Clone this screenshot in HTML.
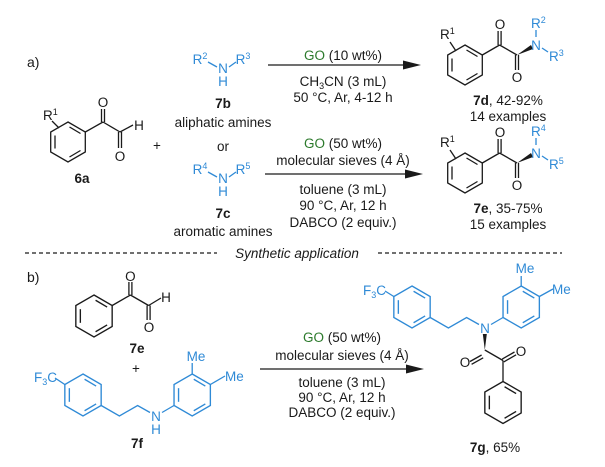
<!DOCTYPE html>
<html><head><meta charset="utf-8"><style>
html,body{margin:0;padding:0;background:#fff;}
svg{display:block;}
text{font-family:"Liberation Sans",Arial,sans-serif;font-size:13.5px;fill:#1a1a1a;}
.b{fill:#2f8ad6;}
.g{fill:#2c7a2c;}
.m{text-anchor:middle;}
.bold{font-weight:bold;}
.s{font-size:9px;}
</style></head><body>
<svg width="605" height="467" viewBox="0 0 605 467" xmlns="http://www.w3.org/2000/svg">
<defs>
<g id="ring" fill="none" stroke="currentColor" stroke-width="1.3">
<polygon points="0,-20 17.3,-10 17.3,10 0,20 -17.3,10 -17.3,-10"/>
<line x1="1.5" y1="-15" x2="12.5" y2="-8.5"/>
<line x1="12.5" y1="8.5" x2="1.5" y2="15"/>
<line x1="-13" y1="6.5" x2="-13" y2="-6.5"/>
</g>
</defs>
<g stroke="#1a1a1a" stroke-width="1.3" fill="none">
<use href="#ring" transform="translate(68,142)" style="color:#1a1a1a"/>
<line x1="85.3" y1="132" x2="103" y2="122"/>
<line x1="101.5" y1="122" x2="101.5" y2="109"/><line x1="104.5" y1="122" x2="104.5" y2="109"/>
<line x1="103" y1="122" x2="120" y2="132"/>
<line x1="120" y1="132" x2="133" y2="125"/>
<line x1="118.5" y1="132" x2="118.5" y2="148"/><line x1="121.5" y1="132" x2="121.5" y2="148"/>
<line x1="52" y1="121" x2="59" y2="128"/>
<use href="#ring" transform="translate(465,65)" style="color:#1a1a1a"/>
<line x1="482.3" y1="55" x2="499.6" y2="45"/>
<line x1="498.1" y1="45" x2="498.1" y2="31"/><line x1="501.1" y1="45" x2="501.1" y2="31"/>
<line x1="499.6" y1="45" x2="517" y2="55"/>
<line x1="515.5" y1="55" x2="515.5" y2="70"/><line x1="518.5" y1="55" x2="518.5" y2="70"/>
<line x1="450" y1="42" x2="456" y2="51"/>
<use href="#ring" transform="translate(465,173)" style="color:#1a1a1a"/>
<line x1="482.3" y1="163" x2="499.6" y2="153"/>
<line x1="498.1" y1="153" x2="498.1" y2="139"/><line x1="501.1" y1="153" x2="501.1" y2="139"/>
<line x1="499.6" y1="153" x2="517" y2="163"/>
<line x1="515.5" y1="163" x2="515.5" y2="178"/><line x1="518.5" y1="163" x2="518.5" y2="178"/>
<line x1="450" y1="150" x2="456" y2="159"/>
<line x1="268" y1="65" x2="406" y2="65"/>
<line x1="265" y1="174" x2="408" y2="174"/>
<line x1="260" y1="369" x2="409" y2="369"/>
<line x1="25" y1="253" x2="217" y2="253" stroke-dasharray="4 3"/>
<line x1="378" y1="253" x2="562" y2="253" stroke-dasharray="4 3"/>
<use href="#ring" transform="translate(94,316) scale(1.05)" style="color:#1a1a1a"/>
<line x1="112.2" y1="305.5" x2="130.4" y2="295"/>
<line x1="128.9" y1="295" x2="128.9" y2="282"/><line x1="131.9" y1="295" x2="131.9" y2="282"/>
<line x1="130.4" y1="295" x2="148.6" y2="305.5"/>
<line x1="148.6" y1="305.5" x2="161" y2="298"/>
<line x1="147.1" y1="305.5" x2="147.1" y2="320"/><line x1="150.1" y1="305.5" x2="150.1" y2="320"/>
<line x1="481.6" y1="355" x2="470" y2="361.5"/><line x1="483.2" y1="357.8" x2="471.6" y2="364.3"/>
<line x1="484.8" y1="350" x2="503" y2="360.5"/>
<line x1="503" y1="360.5" x2="503" y2="381.5"/>
<line x1="502.2" y1="359.1" x2="514.5" y2="352"/><line x1="503.8" y1="361.9" x2="516.1" y2="354.8"/>
<use href="#ring" transform="translate(503,402.5) scale(1.05)" style="color:#1a1a1a"/>
</g>
<g stroke="#2f8ad6" stroke-width="1.3" fill="none">
<line x1="208" y1="62" x2="217" y2="67"/><line x1="229" y1="67" x2="236" y2="62"/>
<line x1="208" y1="172" x2="217" y2="177"/><line x1="229" y1="177" x2="236" y2="172"/>
<line x1="536" y1="37" x2="536" y2="30"/><line x1="542" y1="48" x2="548" y2="52"/>
<line x1="536" y1="145" x2="536" y2="138"/><line x1="542" y1="156" x2="548" y2="160"/>
<use href="#ring" transform="translate(83,395) scale(1.05)" style="color:#2f8ad6"/>
<line x1="64.8" y1="384.5" x2="55" y2="378"/>
<polyline points="101.2,405.5 119.4,416 137.6,405.5 150,412.5"/>
<line x1="162" y1="412.5" x2="174" y2="405.5"/>
<use href="#ring" transform="translate(192.2,395) scale(1.05)" style="color:#2f8ad6"/>
<line x1="192.2" y1="374" x2="192.2" y2="363"/>
<line x1="210.4" y1="384.5" x2="225" y2="376"/>
<use href="#ring" transform="translate(412,307) scale(1.05)" style="color:#2f8ad6"/>
<line x1="393.8" y1="296.5" x2="385" y2="291"/>
<polyline points="430.2,317.5 448.4,328 466.6,317.5 479,324.5"/>
<line x1="491" y1="324.5" x2="503" y2="317.5"/>
<use href="#ring" transform="translate(521.2,307) scale(1.05)" style="color:#2f8ad6"/>
<line x1="521.2" y1="286" x2="521.2" y2="276"/>
<line x1="539.4" y1="296.5" x2="553" y2="289"/>
</g>
<polygon points="517,55 531,45 533,49" fill="#1a1a1a"/>
<polygon points="517,163 531,153 533,157" fill="#1a1a1a"/>
<polygon points="484.8,350 482.8,334 486.8,334" fill="#1a1a1a"/>
<polygon points="421,65 403,60.5 403,69.5" fill="#1a1a1a"/>
<polygon points="423,174 405,169.5 405,178.5" fill="#1a1a1a"/>
<polygon points="424,369 406,364.5 406,373.5" fill="#1a1a1a"/>

<text x="27" y="67" style="font-size:14px">a)</text>
<text class="b m" x="200" y="64">R<tspan dy="-5" class="s">2</tspan></text>
<text class="b m" x="223" y="73">N</text>
<text class="b m" x="223" y="86">H</text>
<text class="b m" x="243" y="64">R<tspan dy="-5" class="s">3</tspan></text>
<text class="m bold" x="223" y="108">7b</text>
<text class="m" x="223" y="127">aliphatic amines</text>
<text class="m" x="223" y="151">or</text>
<text class="b m" x="200" y="174">R<tspan dy="-5" class="s">4</tspan></text>
<text class="b m" x="223" y="183">N</text>
<text class="b m" x="223" y="196">H</text>
<text class="b m" x="243" y="174">R<tspan dy="-5" class="s">5</tspan></text>
<text class="m bold" x="223" y="218">7c</text>
<text class="m" x="223" y="236">aromatic amines</text>

<text x="43" y="120">R<tspan dy="-5" class="s">1</tspan></text>
<text class="m" x="103" y="107">O</text>
<text class="m" x="139" y="130">H</text>
<text class="m" x="120" y="161">O</text>
<text class="m bold" x="82" y="183">6a</text>
<text class="m" x="157" y="150">+</text>

<text class="m" x="343" y="60"><tspan class="g">GO</tspan> (10 wt%)</text>
<text class="m" x="343" y="86">CH<tspan dy="3" class="s">3</tspan><tspan dy="-3">CN (3 mL)</tspan></text>
<text class="m" x="343" y="102">50 °C, Ar, 4-12 h</text>

<text class="m" x="343" y="148"><tspan class="g">GO</tspan> (50 wt%)</text>
<text class="m" x="343" y="165">molecular sieves (4 Å)</text>
<text class="m" x="343" y="194">toluene (3 mL)</text>
<text class="m" x="343" y="210">90 °C, Ar, 12 h</text>
<text class="m" x="343" y="227">DABCO (2 equiv.)</text>

<text x="440" y="39">R<tspan dy="-5" class="s">1</tspan></text>
<text class="m" x="500" y="29">O</text>
<text class="m" x="517" y="82">O</text>
<text class="b m" x="536" y="50">N</text>
<text class="b" x="531" y="28">R<tspan dy="-5" class="s">2</tspan></text>
<text class="b" x="549" y="61">R<tspan dy="-5" class="s">3</tspan></text>
<text class="m" x="508" y="105"><tspan class="bold">7d</tspan>, 42-92%</text>
<text class="m" x="508" y="121">14 examples</text>

<text x="440" y="147">R<tspan dy="-5" class="s">1</tspan></text>
<text class="m" x="500" y="137">O</text>
<text class="m" x="517" y="190">O</text>
<text class="b m" x="536" y="158">N</text>
<text class="b" x="531" y="136">R<tspan dy="-5" class="s">4</tspan></text>
<text class="b" x="549" y="169">R<tspan dy="-5" class="s">5</tspan></text>
<text class="m" x="508" y="213"><tspan class="bold">7e</tspan>, 35-75%</text>
<text class="m" x="508" y="229">15 examples</text>

<text class="m" x="297" y="258" style="font-style:italic">Synthetic application</text>

<text x="27" y="282" style="font-size:14px">b)</text>
<text class="m" x="130.4" y="281">O</text>
<text class="m" x="166" y="302">H</text>
<text class="m" x="149" y="332">O</text>
<text class="m bold" x="137" y="353">7e</text>
<text class="m" x="136" y="373">+</text>

<text class="b" x="57" y="382" text-anchor="end">F<tspan dy="3" class="s">3</tspan><tspan dy="-3">C</tspan></text>
<text class="b m" x="156" y="421">N</text>
<text class="b m" x="156" y="434">H</text>
<text class="b m" x="196" y="361">Me</text>
<text class="b" x="225" y="381">Me</text>
<text class="m bold" x="137" y="448">7f</text>

<text class="m" x="342" y="342"><tspan class="g">GO</tspan> (50 wt%)</text>
<text class="m" x="342" y="360">molecular sieves (4 Å)</text>
<text class="m" x="342" y="387">toluene (3 mL)</text>
<text class="m" x="342" y="402">90 °C, Ar, 12 h</text>
<text class="m" x="342" y="417">DABCO (2 equiv.)</text>

<text class="b" x="386" y="295" text-anchor="end">F<tspan dy="3" class="s">3</tspan><tspan dy="-3">C</tspan></text>
<text class="b m" x="485" y="333">N</text>
<text class="b m" x="525" y="273">Me</text>
<text class="b" x="552" y="294">Me</text>
<text class="m" x="465" y="367">O</text>
<text class="m" x="521" y="356">O</text>
<text class="m" x="495" y="452"><tspan class="bold">7g</tspan>, 65%</text>
</svg>
</body></html>
